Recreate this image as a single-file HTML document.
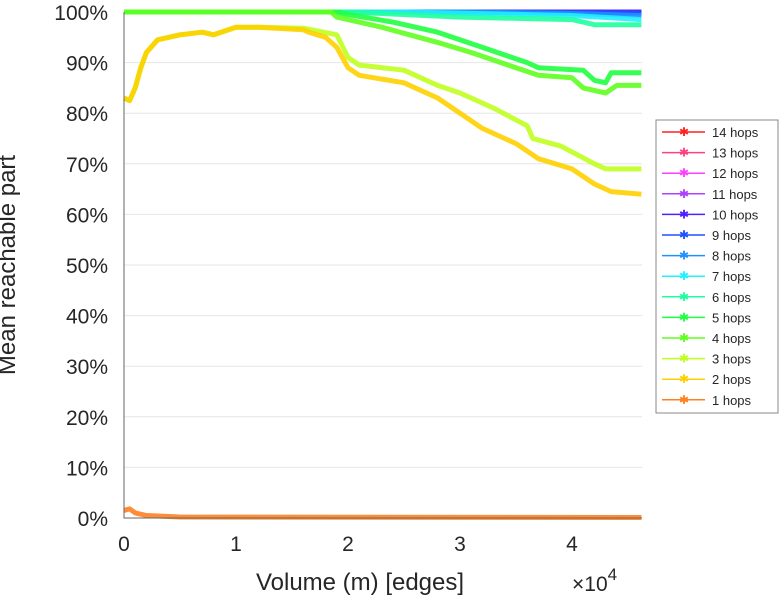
<!DOCTYPE html>
<html><head><meta charset="utf-8"><style>
body{margin:0;background:#fff;font-family:"Liberation Sans",sans-serif}
svg text{font-family:"Liberation Sans",sans-serif;fill:#262626}
</style></head><body>
<svg width="781" height="600" id="c">
<rect width="781" height="600" fill="#fff"/>
<g id="grid"></g><g id="series"></g><g id="axes"></g><g id="legend"></g>
<text x="15" y="265" font-size="24" text-anchor="middle" transform="rotate(-90 15 265)">Mean reachable part</text>
<text x="360" y="590" font-size="24" text-anchor="middle">Volume (m) [edges]</text>
<text x="572" y="591" font-size="21">×10<tspan dy="-11" font-size="17">4</tspan></text>
</svg>
<script>
const xTicks=[0,1,2,3,4];
const yTicks=[0,10,20,30,40,50,60,70,80,90,100];
const names=["14 hops","13 hops","12 hops","11 hops","10 hops","9 hops","8 hops","7 hops","6 hops","5 hops","4 hops","3 hops","2 hops","1 hops"];
const colors=["#ff2020","#ff4080","#ff40ff","#b040ff","#5020ff","#2050ff","#2090ff","#20f0ff","#20ffa0","#20ff40","#60ff20","#c0ff20","#ffd000","#ff8020"];
const s14x=[0,4.62], s14y=[100,100];
const s13x=[0,4.62], s13y=[100,100];
const s12x=[0,4.62], s12y=[100,100];
const s11x=[0,4.62], s11y=[100,100];
const s10x=[0,4.62], s10y=[100,100];
const s9x=[0,3,4.62], s9y=[100,100,99.8];
const s8x=[0,3,4.0,4.62], s8y=[100,100,99.7,99.3];
const s7x=[0,2.5,4.0,4.62], s7y=[100,100,99.3,98.5];
const s6x=[0,2.0,3.0,4.0,4.2,4.62], s6y=[100,100,99,98.5,97.5,97.5];
const s5x=[0,1.9,2.0,2.4,2.8,3.2,3.6,3.7,4.1,4.2,4.3,4.35,4.62], s5y=[100,100,99.5,98,96,93,90,89,88.5,86.5,86,88,88];
const s4x=[0,1.85,1.9,2.3,2.8,3.1,3.5,3.7,4.0,4.1,4.3,4.4,4.62], s4y=[100,100,99,97,94,92,89,87.5,87,85,84,85.5,85.5];
const s3x=[0,0.05,0.1,0.15,0.2,0.3,0.5,0.7,0.8,1.0,1.2,1.6,1.9,2.0,2.1,2.5,2.8,3.0,3.3,3.6,3.65,3.9,4.2,4.3,4.62], s3y=[83,82.5,85,89,92,94.5,95.5,96,95.5,97,97,96.8,95.5,91,89.5,88.5,85.5,84,81,77.5,75,73.5,70,69,69];
const s2x=[0,0.05,0.1,0.15,0.2,0.3,0.5,0.7,0.8,1.0,1.2,1.6,1.65,1.8,1.9,2.0,2.1,2.5,2.8,3.0,3.2,3.5,3.7,4.0,4.2,4.35,4.62], s2y=[83,82.5,85,89,92,94.5,95.5,96,95.5,97,97,96.5,96,95,93,89,87.5,86,83,80,77,74,71,69,66,64.5,64];
const s1x=[0,0.05,0.1,0.2,0.5,4.62], s1y=[1.5,1.8,1,0.5,0.2,0.1];
const XS=[s14x,s13x,s12x,s11x,s10x,s9x,s8x,s7x,s6x,s5x,s4x,s3x,s2x,s1x];
const YS=[s14y,s13y,s12y,s11y,s10y,s9y,s8y,s7y,s6y,s5y,s4y,s3y,s2y,s1y];
const NS="http://www.w3.org/2000/svg";
const X0=124,X1=642,XMAX=4.625,Y0=518,Y1=12;
const sx=v=>X0+v/XMAX*(X1-X0), sy=v=>Y0-v/100*(Y0-Y1);
function mk(t,a,p){const e=document.createElementNS(NS,t);for(const k in a)e.setAttribute(k,a[k]);p.appendChild(e);return e;}
const grid=document.getElementById('grid'),axes=document.getElementById('axes'),ser=document.getElementById('series'),leg=document.getElementById('legend');
yTicks.forEach(v=>{
 const l=mk('line',{x1:X0,x2:X1,y1:sy(v),y2:sy(v),stroke:'#e6e6e6'},grid);
 
 
 const t=mk('text',{x:108,y:sy(v)+8,'font-size':21,'text-anchor':'end'},axes);
 t.textContent=v+'%';
 
 
});
xTicks.forEach(v=>{
 const t=mk('text',{x:sx(v),y:551,'font-size':21,'text-anchor':'middle'},axes);
 t.textContent=v;
 
 
});
const ax=mk('path',{d:`M${X0} ${Y1}V${Y0}H${X1}`,stroke:'#666',fill:'none'},axes);


XS.forEach((xs,i)=>{
 const d=xs.map((x,j)=>(j?'L':'M')+sx(x).toFixed(1)+' '+sy(YS[i][j]).toFixed(1)).join('');
 const p=mk('path',{d:d,stroke:colors[i],'stroke-width':5,fill:'none','stroke-linejoin':'round','stroke-opacity':0.9},ser);
 
 
});
const lb=mk('rect',{x:656,y:120,width:122,height:293,fill:'#fff',stroke:'#888'},leg);


names.forEach((n,i)=>{
 const y=132+i*20.6;
 const g=mk('g',{},leg);
 
 
 mk('line',{x1:662,x2:705,y1:y,y2:y,stroke:colors[i],'stroke-width':1.5},g);
 const m=mk('text',{x:684,y:y+4,'font-size':12,'text-anchor':'middle',fill:colors[i],style:'fill:'+colors[i]},g);
 m.textContent='✱';
 const t=mk('text',{x:712,y:y+5,'font-size':13},g);
 t.textContent=n;
});
</script>
</body></html>
